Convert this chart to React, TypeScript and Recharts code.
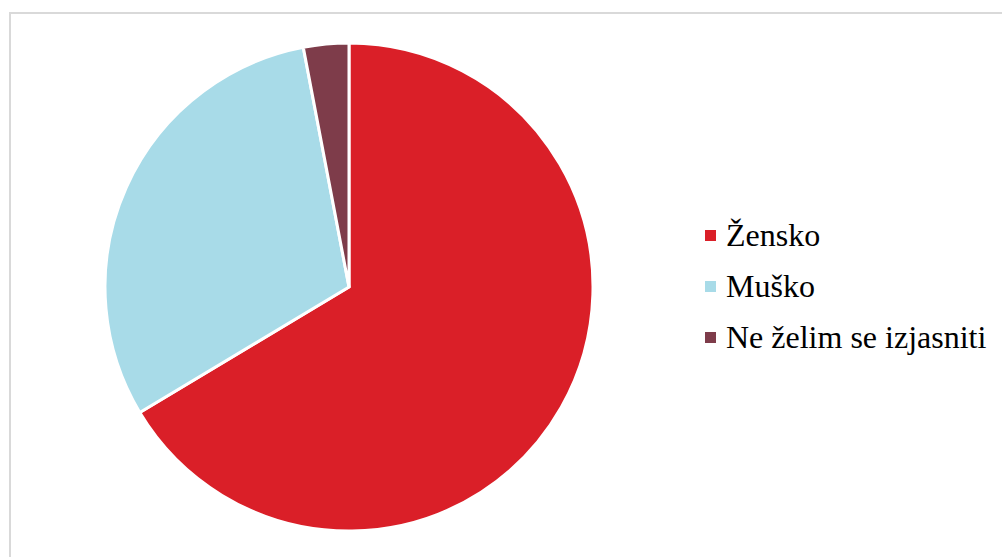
import { Cell, Pie, PieChart } from 'recharts';

const categories = ['Žensko', 'Muško', 'Ne želim se izjasniti'];
const shares = [66.4, 30.6, 3.0];
const colors = ['#DA1F28', '#A8DBE8', '#7E3C4A'];

const data = categories.map((name, i) => ({ name, value: shares[i] }));

function SideLegend() {
  return (
    <div
      style={{
        position: 'absolute',
        left: 705,
        top: 210,
        fontFamily: "'Times New Roman', 'Liberation Serif', Tinos, 'Noto Serif', 'DejaVu Serif', FreeSerif, serif",
        fontSize: 32,
        color: '#000',
        whiteSpace: 'nowrap',
      }}
    >
      {categories.map((name, i) => (
        <div key={name} style={{ display: 'flex', alignItems: 'center', height: 51 }}>
          <span
            style={{
              display: 'inline-block',
              width: 11,
              height: 11,
              background: colors[i],
              marginRight: 10,
            }}
          />
          <span>{name}</span>
        </div>
      ))}
    </div>
  );
}

export default function App() {
  return (
    <div style={{ position: 'fixed', left: 0, top: 0, width: 1002, height: 557, overflow: 'hidden', background: '#fff' }}>
      {/* chart frame, runs off the right and bottom edges */}
      <div
        style={{
          position: 'absolute',
          left: 9,
          top: 12,
          width: 1000,
          height: 560,
          border: '2px solid #d9d9d9',
        }}
      />
      <div style={{ position: 'absolute', left: 0, top: 0 }}>
        <PieChart width={1002} height={557} margin={{ top: 0, right: 0, bottom: 0, left: 0 }}>
          <Pie
            data={data}
            dataKey="value"
            nameKey="name"
            cx={349}
            cy={287}
            outerRadius={244}
            startAngle={90}
            endAngle={-270}
            stroke="#fff"
            strokeWidth={3}
            isAnimationActive={false}
          >
            {data.map((d, i) => (
              <Cell key={d.name} fill={colors[i]} />
            ))}
          </Pie>
        </PieChart>
      </div>
      <SideLegend />
    </div>
  );
}
